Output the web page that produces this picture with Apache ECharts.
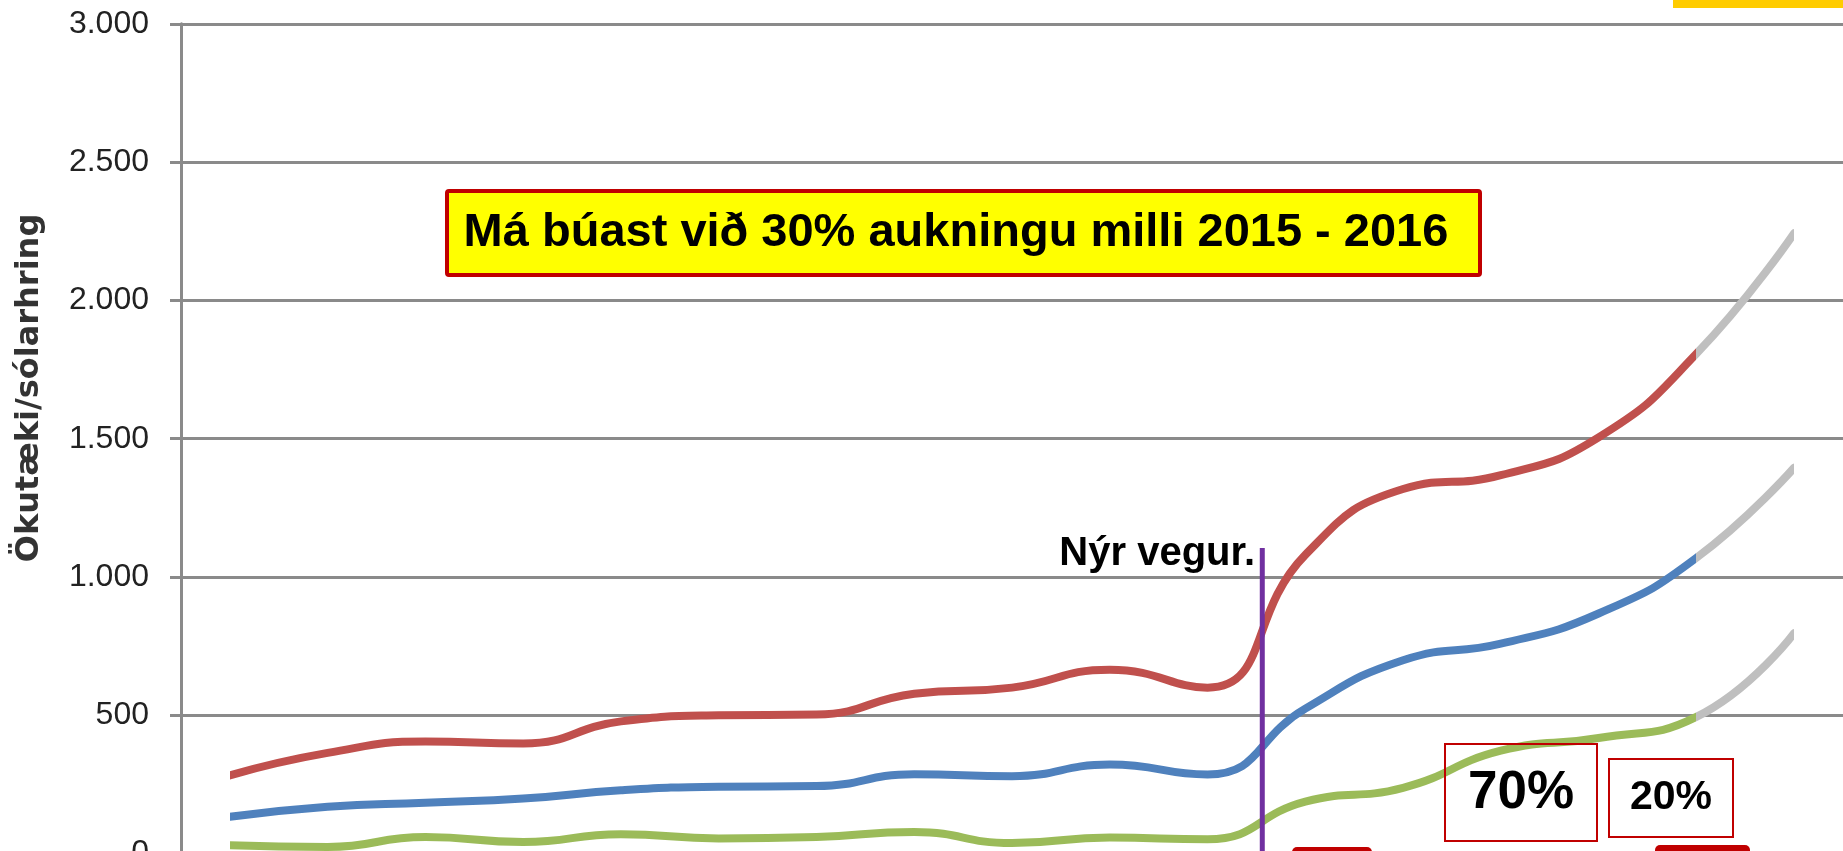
<!DOCTYPE html>
<html>
<head>
<meta charset="utf-8">
<script src="https://cdn.jsdelivr.net/npm/echarts@6/dist/echarts.min.js"></script>
<style>
  html, body { margin: 0; padding: 0; background: #fff; }
  #chart { width: 1843px; height: 851px; }
</style>
</head>
<body>
<div id="chart"></div>
<script>
// ár (x-ás er ekki sýnilegur á myndinni, síðasti punktur er spá)
const years = ['2000', '2001', '2002', '2003', '2004', '2005', '2006', '2007', '2008',
  '2009', '2010', '2011', '2012', '2013', '2014', '2015', '2016'];

const redValues = [283, 364, 405, 398, 478, 500, 503, 578, 600, 665, 600, 1080, 1318, 1368, 1505, 1807, 2243];
const blueValues = [133, 169, 184, 199, 229, 242, 244, 287, 280, 322, 286, 524, 699, 759, 868, 1069, 1395];
const greenValues = [30, 24, 60, 42, 70, 55, 60, 78, 38, 58, 52, 188, 238, 372, 418, 494, 797];

const yTickLabels = ['0', '500', '1.000', '1.500', '2.000', '2.500', '3.000'];

const forecastFrom = 15; // spá frá 2015 til 2016 (grátt)
const roadOpened = 10.56; // Nýr vegur, milli 2010 og 2011
const roadMarkTop = 1105;

const COLORS = {
  red: '#c0504d',
  blue: '#4f81bd',
  green: '#9bbb59',
  forecast: '#bfbfbf',
  grid: '#8a8a8a',
  box: '#c00000',
};

const chart = echarts.init(document.getElementById('chart'), null, { renderer: 'canvas' });

const lineSeries = (name, data) => ({
  name,
  type: 'line',
  data,
  smooth: 0.5,
  showSymbol: false,
  silent: true,
  lineStyle: { width: 8, cap: 'round', join: 'round' },
});

const pieces = (color) => ({
  type: 'piecewise',
  show: false,
  dimension: 0,
  pieces: [
    { gte: 0, lte: forecastFrom, color },
    { gt: forecastFrom, lte: years.length - 1, color: COLORS.forecast },
  ],
});

const option = {
  backgroundColor: '#fff',
  animation: false,
  grid: { left: 181, right: 0, top: 23.8, bottom: -2.6, outerBoundsMode: 'none', containLabel: false },
  xAxis: {
    type: 'category',
    data: years,
    boundaryGap: true,
    show: false,
  },
  yAxis: {
    type: 'value',
    min: 0,
    max: 3000,
    interval: 500,
    axisLine: { show: true, lineStyle: { color: COLORS.grid, width: 3 } },
    axisTick: { show: true, length: 11, lineStyle: { color: COLORS.grid, width: 3 } },
    splitLine: { show: true, lineStyle: { color: COLORS.grid, width: 3 } },
    axisLabel: {
      margin: 32,
      color: '#222',
      fontSize: 32,
      fontFamily: '"Liberation Sans", Arial, sans-serif',
      formatter: (v) => yTickLabels[Math.round(v / 500)],
    },
  },
  visualMap: [
    { ...pieces(COLORS.red), seriesIndex: 0 },
    { ...pieces(COLORS.blue), seriesIndex: 1 },
    { ...pieces(COLORS.green), seriesIndex: 2 },
  ],
  series: [
    lineSeries('Rauð', redValues),
    lineSeries('Blá', blueValues),
    lineSeries('Græn', greenValues),
  ],
};

chart.setOption(option);

// staðsetning lóðréttu línunnar reiknuð út frá ásunum
const x10 = chart.convertToPixel({ xAxisIndex: 0 }, 10);
const x11 = chart.convertToPixel({ xAxisIndex: 0 }, 11);
const roadX = x10 + (roadOpened - 10) * (x11 - x10);
const roadTop = chart.convertToPixel({ yAxisIndex: 0 }, roadMarkTop);

const boldFont = (size) => 'bold ' + size + 'px "Liberation Sans", Arial, sans-serif';

chart.setOption({
  graphic: [
    // gulur bútur efst til hægri
    { type: 'rect', shape: { x: 1673, y: -5, width: 180, height: 13 }, style: { fill: '#ffcc00' } },
    // y-ás heiti
    {
      type: 'text',
      x: 30,
      y: 388,
      rotation: Math.PI / 2,
      style: {
        text: 'Ökutæki/sólarhring',
        font: 'bold 32px "DejaVu Sans", sans-serif',
        fill: '#333',
        textAlign: 'center',
        textVerticalAlign: 'middle',
      },
    },
    // fyrirsögn í gulum kassa
    {
      type: 'rect',
      shape: { x: 447, y: 191, width: 1033, height: 84, r: 2 },
      style: { fill: '#ffff00', stroke: COLORS.box, lineWidth: 4 },
    },
    {
      type: 'text',
      x: 956,
      y: 233.5,
      style: {
        text: 'Má búast við 30% aukningu milli 2015 - 2016',
        font: boldFont(47),
        fill: '#000',
        textAlign: 'center',
        textVerticalAlign: 'middle',
      },
    },
    // nýr vegur
    {
      type: 'line',
      shape: { x1: roadX, y1: roadTop, x2: roadX, y2: 860 },
      style: { stroke: '#7030a0', lineWidth: 5 },
      z: 10,
    },
    {
      type: 'text',
      x: 1255,
      y: 553.5,
      style: {
        text: 'Nýr vegur.',
        font: boldFont(40),
        fill: '#000',
        textAlign: 'right',
        textVerticalAlign: 'middle',
      },
    },
    // prósentukassar
    {
      type: 'rect',
      shape: { x: 1445, y: 744, width: 152, height: 97 },
      style: { fill: null, stroke: COLORS.box, lineWidth: 2 },
      z: 10,
    },
    {
      type: 'text',
      x: 1521,
      y: 793,
      style: { text: '70%', font: boldFont(53), fill: '#000', textAlign: 'center', textVerticalAlign: 'middle' },
      z: 10,
    },
    {
      type: 'rect',
      shape: { x: 1609, y: 759, width: 124, height: 78 },
      style: { fill: null, stroke: COLORS.box, lineWidth: 2 },
      z: 10,
    },
    {
      type: 'text',
      x: 1671,
      y: 798,
      style: { text: '20%', font: boldFont(41), fill: '#000', textAlign: 'center', textVerticalAlign: 'middle' },
      z: 10,
    },
    // rauðir kassar neðst (skornir af)
    {
      type: 'rect',
      shape: { x: 1292, y: 847, width: 80, height: 20, r: [5, 5, 0, 0] },
      style: { fill: COLORS.box },
      z: 10,
    },
    {
      type: 'rect',
      shape: { x: 1655, y: 845, width: 95, height: 20, r: [5, 5, 0, 0] },
      style: { fill: COLORS.box },
      z: 10,
    },
  ],
});

window.addEventListener('resize', () => chart.resize());
</script>
</body>
</html>
